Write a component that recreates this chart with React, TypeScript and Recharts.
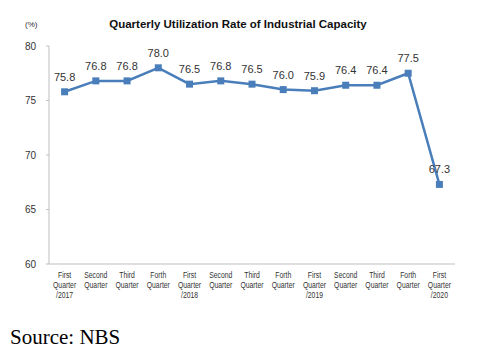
import { LineChart, Line, XAxis, YAxis, LabelList } from "recharts";

const quarters = [
  "First Quarter /2017",
  "Second Quarter",
  "Third Quarter",
  "Forth Quarter",
  "First Quarter /2018",
  "Second Quarter",
  "Third Quarter",
  "Forth Quarter",
  "First Quarter /2019",
  "Second Quarter",
  "Third Quarter",
  "Forth Quarter",
  "First Quarter /2020",
];
const rates = [75.8, 76.8, 76.8, 78.0, 76.5, 76.8, 76.5, 76.0, 75.9, 76.4, 76.4, 77.5, 67.3];
const yTicks = [60, 65, 70, 75, 80];

const data = quarters.map((q, i) => ({ idx: i, label: q, rate: rates[i] }));

// narrow, condensed look of the original's axis labels
const QuarterTick = (props: any) => {
  const { x, y, payload } = props;
  const lines = quarters[payload.value].split(" ");
  return (
    <g transform={`translate(${x},${y}) scale(0.72,1)`}>
      <text x={0} y={0} textAnchor="middle" fontSize={9.5} fill="#333" fontFamily="Liberation Sans, Arial, sans-serif">
        {lines.map((l, i) => (
          <tspan key={i} x={0} dy={i === 0 ? 6 : 10}>
            {l}
          </tspan>
        ))}
      </text>
    </g>
  );
};

const SquareDot = (props: any) => {
  const { cx, cy } = props;
  return <rect x={cx - 3.5} y={cy - 3.5} width={7} height={7} fill="#4a7ebb" />;
};

const ValueLabel = (props: any) => {
  const { x, y, value } = props;
  return (
    <text x={x} y={y - 11} textAnchor="middle" fontSize={11} fill="#333" fontFamily="Liberation Sans, Arial, sans-serif">
      {value.toFixed(1)}
    </text>
  );
};

export default function App() {
  return (
    <div style={{ position: "absolute", left: 0, top: 0, width: 498, height: 358, background: "#fff" }}>
      <div
        style={{
          position: "absolute",
          left: 0,
          width: 476,
          top: 18,
          textAlign: "center",
          fontFamily: "Liberation Sans, Arial, sans-serif",
          fontWeight: "bold",
          fontSize: 11.5,
          color: "#111",
        }}
      >
        Quarterly Utilization Rate of Industrial Capacity
      </div>
      <div
        style={{
          position: "absolute",
          left: 25,
          top: 20,
          fontFamily: "Liberation Sans, Arial, sans-serif",
          fontSize: 8,
          color: "#333",
        }}
      >
        (%)
      </div>
      <div style={{ position: "absolute", left: 0, top: 0 }}>
        <LineChart width={498} height={310} data={data} margin={{ top: 46, right: 43, bottom: 0, left: 14 }}>
          <XAxis
            dataKey="idx"
            type="category"
            height={46}
            padding={{ left: 15.6, right: 15.6 }}
            stroke="#bfbfbf"
            tickLine={false}
            interval={0}
            tick={<QuarterTick />}
          />
          <YAxis
            domain={[60, 80]}
            ticks={yTicks}
            width={35}
            stroke="#bfbfbf"
            tickSize={3}
            tickMargin={10}
            tick={{ fontSize: 10, fill: "#333", fontFamily: "Liberation Sans, Arial, sans-serif" }}
          />
          <Line
            dataKey="rate"
            stroke="#4a7ebb"
            strokeWidth={2.5}
            dot={<SquareDot />}
            activeDot={false}
            isAnimationActive={false}
          >
            <LabelList dataKey="rate" content={<ValueLabel />} />
          </Line>
        </LineChart>
      </div>
      <div
        style={{
          position: "absolute",
          left: 10,
          top: 325,
          fontFamily: "Liberation Serif, Times New Roman, serif",
          fontSize: 21,
          color: "#000",
        }}
      >
        Source: NBS
      </div>
    </div>
  );
}
